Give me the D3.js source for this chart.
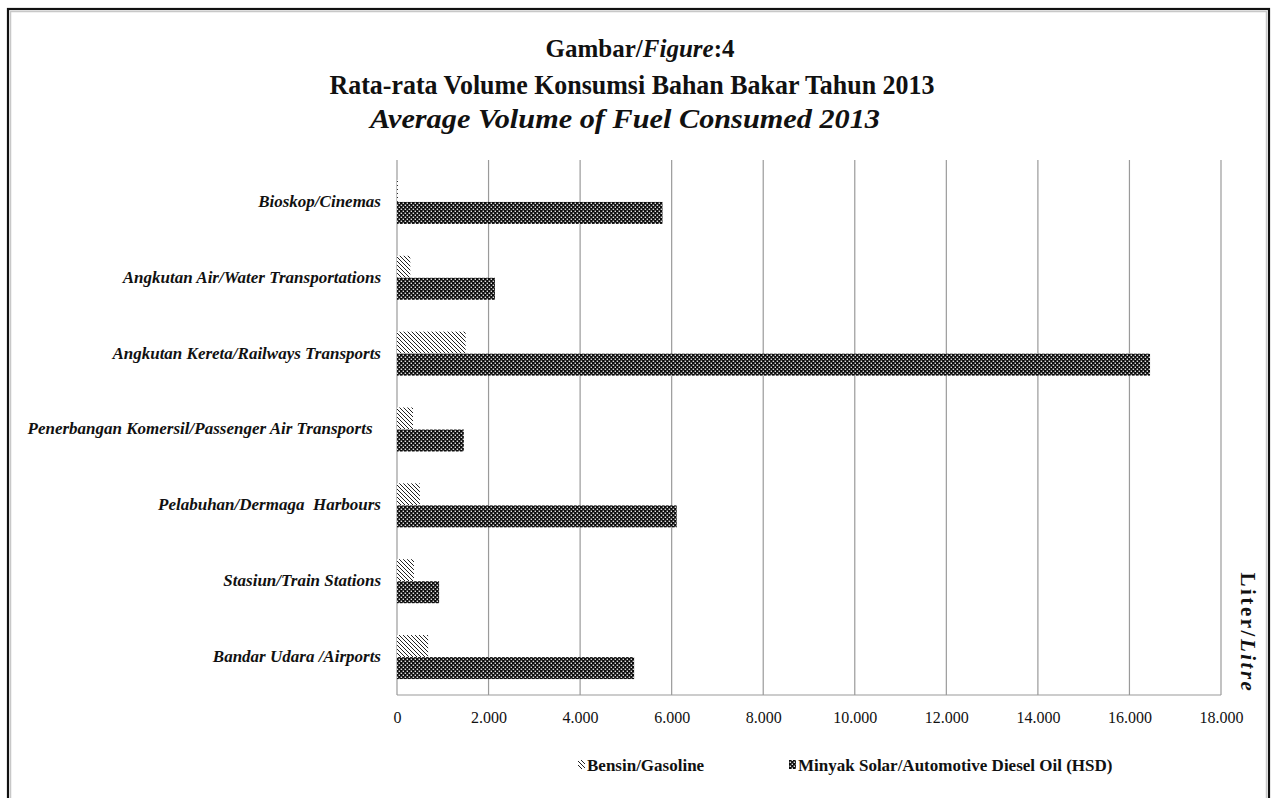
<!DOCTYPE html>
<html>
<head>
<meta charset="utf-8">
<script src="https://cdn.jsdelivr.net/npm/d3@7"></script>
<style>
  html, body { margin: 0; padding: 0; background: #fff; }
  svg { display: block; }
  text { font-family: "Liberation Serif", "Times New Roman", serif; fill: #111; }
  .cat { white-space: pre; }
</style>
</head>
<body>
<svg id="chart" width="1276" height="798"></svg>
<script>
// Categories, top to bottom
const categories = [
  "Bioskop/Cinemas",
  "Angkutan Air/Water Transportations",
  "Angkutan Kereta/Railways Transports",
  "Penerbangan Komersil/Passenger Air Transports  ",
  "Pelabuhan/Dermaga  Harbours",
  "Stasiun/Train Stations",
  "Bandar Udara /Airports"
];
// Average volume, litres
const gasoline = [20, 290, 1500, 350, 500, 370, 680];
const diesel   = [5800, 2140, 16450, 1460, 6110, 920, 5180];
const seriesNames = ["Bensin/Gasoline", "Minyak Solar/Automotive Diesel Oil (HSD)"];
const xTicks = [0, 2000, 4000, 6000, 8000, 10000, 12000, 14000, 16000, 18000];

const svg = d3.select("#chart");
const plot = { left: 397, right: 1221, top: 160, bottom: 695 };

// Outer frame
svg.append("rect").attr("x", 8).attr("y", 9).attr("width", 1261).attr("height", 800)
  .attr("fill", "none").attr("stroke", "#111").attr("stroke-width", 2.2);
svg.append("rect").attr("x", 10.5).attr("y", 11.5).attr("width", 1256).attr("height", 800)
  .attr("fill", "none").attr("stroke", "#c8c8c8").attr("stroke-width", 1.5);

// Fill patterns
const defs = svg.append("defs");
const pg = defs.append("pattern").attr("id", "pat-gasoline")
  .attr("patternUnits", "userSpaceOnUse").attr("width", 4).attr("height", 4);
pg.append("rect").attr("width", 4).attr("height", 4).attr("fill", "#fff");
pg.append("path").attr("d", "M-1,-1 L5,5 M-1,3 L1,5 M3,-1 L5,1")
  .attr("stroke", "#222").attr("stroke-width", 1);

const pd = defs.append("pattern").attr("id", "pat-diesel")
  .attr("patternUnits", "userSpaceOnUse").attr("width", 4).attr("height", 4);
pd.append("rect").attr("width", 4).attr("height", 4).attr("fill", "#0d0d0d");
pd.append("rect").attr("x", 0.6).attr("y", 0.6).attr("width", 1.5).attr("height", 1.3).attr("fill", "#f4f4f4");
pd.append("rect").attr("x", 2.6).attr("y", 2.6).attr("width", 1.5).attr("height", 1.3).attr("fill", "#f4f4f4");

// Scales
const x = d3.scaleLinear().domain([0, 18000]).range([plot.left, plot.right]);
const y = d3.scaleBand().domain(categories).range([164, plot.bottom])
  .paddingInner(0.42).paddingOuter(0.21);
const ySub = d3.scaleBand().domain([0, 1]).range([0, y.bandwidth()]);

// Gridlines
svg.append("g").selectAll("line").data(xTicks).join("line")
  .attr("x1", d => x(d)).attr("x2", d => x(d))
  .attr("y1", plot.top).attr("y2", plot.bottom)
  .attr("stroke", "#9a9a9a").attr("stroke-width", 1.2);
svg.append("line").attr("x1", plot.left).attr("x2", plot.right)
  .attr("y1", plot.bottom).attr("y2", plot.bottom)
  .attr("stroke", "#9a9a9a").attr("stroke-width", 1.2);

// X axis labels
const fmt = d => d === 0 ? "0" : d3.format(",")(d).replace(/,/g, ".");
const xAxis = d3.axisBottom(x).tickValues(xTicks).tickFormat(fmt).tickSize(0).tickPadding(0);
const gx = svg.append("g").attr("transform", `translate(0,${plot.bottom + 23})`).call(xAxis);
gx.select(".domain").remove();
gx.selectAll("text").attr("font-family", "Liberation Serif").attr("font-size", 16)
  .attr("fill", "#111").attr("dy", "0.32em");

// Category labels
svg.append("g").selectAll("text").data(categories).join("text").attr("class", "cat")
  .attr("x", 381).attr("y", d => y(d) + y.bandwidth() / 2 - 1)
  .attr("dy", "0.35em").attr("text-anchor", "end")
  .attr("font-size", 17).attr("font-weight", "bold").attr("font-style", "italic")
  .text(d => d);

// Bars
const rows = categories.map((c, i) => ({ c, g: gasoline[i], d: diesel[i] }));
const grp = svg.append("g");
grp.selectAll("rect.g").data(rows).join("rect").attr("class", "g")
  .attr("x", x(0)).attr("y", r => y(r.c) + ySub(0))
  .attr("width", r => x(r.g) - x(0)).attr("height", ySub.bandwidth())
  .attr("fill", "url(#pat-gasoline)");
grp.selectAll("rect.d").data(rows).join("rect").attr("class", "d")
  .attr("x", x(0)).attr("y", r => y(r.c) + ySub(1))
  .attr("width", r => x(r.d) - x(0)).attr("height", ySub.bandwidth())
  .attr("fill", "url(#pat-diesel)");

// Titles
const title = svg.append("g").attr("text-anchor", "middle").attr("font-weight", "bold");
const t1 = title.append("text").attr("x", 640).attr("y", 57).attr("font-size", 25);
t1.append("tspan").text("Gambar/");
t1.append("tspan").attr("font-style", "italic").text("Figure");
t1.append("tspan").text(":4");
title.append("text").attr("x", 632).attr("y", 94).attr("font-size", 27)
  .attr("textLength", 605).attr("lengthAdjust", "spacingAndGlyphs")
  .text("Rata-rata Volume Konsumsi Bahan Bakar Tahun 2013");
title.append("text").attr("x", 625).attr("y", 128).attr("font-size", 27)
  .attr("textLength", 510).attr("lengthAdjust", "spacingAndGlyphs")
  .attr("font-style", "italic").text("Average Volume of Fuel Consumed 2013");

// Unit label on the right
const unit = svg.append("text").attr("transform", "translate(1241,633) rotate(90)")
  .attr("text-anchor", "middle").attr("font-size", 21).attr("font-weight", "bold")
  .attr("letter-spacing", 2.5);
unit.append("tspan").text("Liter/");
unit.append("tspan").attr("font-style", "italic").text("Litre");

// Legend
const legend = [
  { name: seriesNames[0], fill: "url(#pat-gasoline)", x: 578 },
  { name: seriesNames[1], fill: "url(#pat-diesel)", x: 789 }
];
const lg = svg.append("g").selectAll("g").data(legend).join("g")
  .attr("transform", d => `translate(${d.x},765)`);
lg.append("rect").attr("x", 0).attr("y", -5).attr("width", 7).attr("height", 9)
  .attr("fill", d => d.fill);
lg.append("text").attr("x", 9).attr("y", 0).attr("dy", "0.35em")
  .attr("font-size", 17).attr("font-weight", "bold").text(d => d.name);
</script>
</body>
</html>
